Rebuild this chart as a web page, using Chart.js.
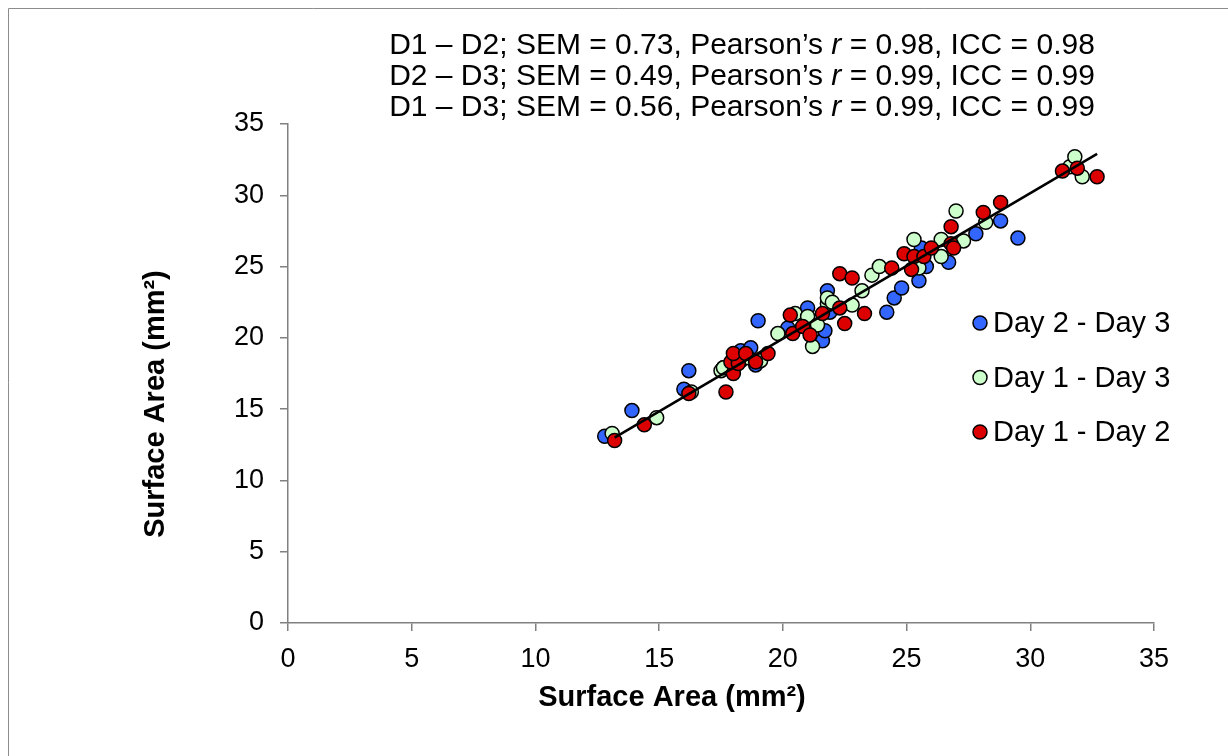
<!DOCTYPE html>
<html>
<head>
<meta charset="utf-8">
<script src="https://cdn.jsdelivr.net/npm/chart.js@4.4.1/dist/chart.umd.min.js"></script>
<style>
  html, body { margin: 0; padding: 0; background: #fff; }
  #wrap { position: relative; width: 1228px; height: 756px; }
</style>
</head>
<body>
<div id="wrap"><canvas id="c"></canvas></div>
<script>
// Day 2 - Day 3 (blue)
const d23x = [12.8, 13.9, 16.0, 16.2, 17.6, 18.3, 18.7, 18.9, 19.0, 20.2, 21.0, 21.6, 21.7, 21.8, 21.9, 24.2, 24.5, 24.8, 25.5, 25.6, 25.8, 26.7, 27.8, 28.8, 29.5];
const d23y = [13.1, 14.9, 16.4, 17.7, 17.9, 19.1, 19.3, 18.1, 21.2, 20.7, 22.1, 19.8, 20.5, 23.3, 21.8, 21.8, 22.8, 23.5, 24.0, 26.3, 25.0, 25.3, 27.3, 28.2, 27.0];
// Day 1 - Day 3 (green)
const d13x = [13.1, 14.9, 16.3, 17.5, 17.6, 18.3, 18.6, 19.1, 19.8, 20.5, 21.0, 21.4, 21.2, 21.8, 21.8, 22.0, 22.8, 23.2, 23.6, 23.9, 25.3, 25.5, 26.4, 26.4, 27.0, 27.3, 28.2, 31.6, 31.8, 32.1];
const d13y = [13.3, 14.4, 16.2, 17.7, 17.9, 18.4, 18.6, 18.4, 20.3, 21.7, 21.5, 20.9, 19.4, 22.4, 22.8, 22.5, 22.3, 23.3, 24.4, 25.0, 26.9, 24.9, 25.7, 26.9, 28.9, 26.8, 28.1, 32.0, 32.7, 31.3];
// Day 1 - Day 2 (red)
const d12x = [13.2, 14.4, 16.2, 17.7, 18.0, 17.9, 18.2, 18.0, 18.5, 18.9, 19.4, 20.3, 20.4, 20.8, 21.1, 21.6, 22.3, 22.5, 23.3, 22.3, 22.8, 24.4, 24.9, 25.3, 25.2, 25.7, 26.0, 26.8, 26.9, 26.8, 28.1, 28.8, 31.3, 31.9, 32.7];
const d12y = [12.8, 13.9, 16.1, 16.2, 17.5, 18.3, 18.2, 18.9, 18.9, 18.3, 18.9, 21.6, 20.3, 20.8, 20.2, 21.7, 22.1, 21.0, 21.7, 24.5, 24.2, 24.9, 25.9, 25.7, 24.8, 25.7, 26.3, 26.6, 26.3, 27.8, 28.8, 29.5, 31.7, 31.9, 31.3];
// fitted line ends
const fitX = [13.2, 32.7];
const fitY = [13.0, 32.9];

const seriesNames = ['Day 2 - Day 3', 'Day 1 - Day 3', 'Day 1 - Day 2'];
const seriesColors = ['#3366ff', '#ccffcc', '#dd0000'];
const titleLines = [
  ['D1 \u2013 D2; SEM = 0.73, Pearson\u2019s ', 'r', ' = 0.98, ICC = 0.98'],
  ['D2 \u2013 D3; SEM = 0.49, Pearson\u2019s ', 'r', ' = 0.99, ICC = 0.99'],
  ['D1 \u2013 D3; SEM = 0.56, Pearson\u2019s ', 'r', ' = 0.99, ICC = 0.99']
];
const axisTitle = 'Surface Area (mm\u00b2)';
const FONT = '"Liberation Sans", Arial, sans-serif';

function pts(xs, ys) { return xs.map((x, i) => ({x: x, y: ys[i]})); }
function dotSet(label, xs, ys, color, order) {
  return {
    type: 'scatter', label: label, data: pts(xs, ys), order: order,
    backgroundColor: color, borderColor: '#000', borderWidth: 1.5,
    pointRadius: 7, pointHoverRadius: 7
  };
}

const extras = {
  id: 'extras',
  afterDraw(chart) {
    const ctx = chart.ctx;
    ctx.save();
    // outer frame
    ctx.strokeStyle = '#8c8c8c';
    ctx.lineWidth = 1;
    ctx.beginPath();
    ctx.moveTo(8.5, 760); ctx.lineTo(8.5, 8.5); ctx.lineTo(1240, 8.5);
    ctx.stroke();

    ctx.fillStyle = '#000';
    ctx.textBaseline = 'middle';
    // stats lines with italic r
    const norm = '30px ' + FONT, ital = 'italic 30px ' + FONT;
    titleLines.forEach((parts, i) => {
      const fonts = [norm, ital, norm];
      let w = 0;
      parts.forEach((p, j) => { ctx.font = fonts[j]; w += ctx.measureText(p).width; });
      let x = 742 - w / 2;
      const y = 46 + i * 31;
      ctx.textAlign = 'left';
      parts.forEach((p, j) => { ctx.font = fonts[j]; ctx.fillText(p, x, y); x += ctx.measureText(p).width; });
    });

    // axis titles
    ctx.font = 'bold 29px ' + FONT;
    ctx.textAlign = 'center';
    ctx.fillText(axisTitle, 672, 698);
    ctx.save();
    ctx.translate(156, 404);
    ctx.rotate(-Math.PI / 2);
    ctx.fillText(axisTitle, 0, 0);
    ctx.restore();

    // legend
    ctx.font = '29px ' + FONT;
    ctx.textAlign = 'left';
    seriesNames.forEach((name, i) => {
      const y = 323 + i * 54.5;
      ctx.beginPath();
      ctx.arc(980, y, 7, 0, Math.PI * 2);
      ctx.fillStyle = seriesColors[i];
      ctx.fill();
      ctx.lineWidth = 1.5;
      ctx.strokeStyle = '#000';
      ctx.stroke();
      ctx.fillStyle = '#000';
      ctx.fillText(name, 993, y + 1);
    });
    ctx.restore();
  }
};

new Chart(document.getElementById('c'), {
  data: {
    datasets: [
      dotSet(seriesNames[0], d23x, d23y, seriesColors[0], 3),
      dotSet(seriesNames[1], d13x, d13y, seriesColors[1], 2),
      dotSet(seriesNames[2], d12x, d12y, seriesColors[2], 1),
      {
        type: 'line', label: 'fit', data: pts(fitX, fitY), order: 0,
        borderColor: '#000', borderWidth: 2.5, pointRadius: 0, fill: false
      }
    ]
  },
  options: {
    responsive: true,
    maintainAspectRatio: false,
    animation: false,
    events: [],
    layout: { padding: { left: 0, top: 124, right: 74, bottom: 73 } },
    plugins: { legend: { display: false }, tooltip: { enabled: false } },
    scales: {
      x: {
        type: 'linear', min: 0, max: 35,
        ticks: { stepSize: 5, color: '#000', font: { family: FONT, size: 27 }, padding: 12, maxRotation: 0 },
        grid: { display: true, drawOnChartArea: false, drawTicks: true, tickLength: 8, color: '#808080', lineWidth: 1.5 },
        border: { color: '#808080', width: 1.5 },
        afterFit(s) { s.height = 60; }
      },
      y: {
        type: 'linear', min: 0, max: 35,
        ticks: { stepSize: 5, color: '#000', font: { family: FONT, size: 27 }, padding: 16 },
        grid: { display: true, drawOnChartArea: false, drawTicks: true, tickLength: 8, color: '#808080', lineWidth: 1.5 },
        border: { color: '#808080', width: 1.5 },
        afterFit(s) { s.width = 288; }
      }
    }
  },
  plugins: [extras]
});
</script>
</body>
</html>
